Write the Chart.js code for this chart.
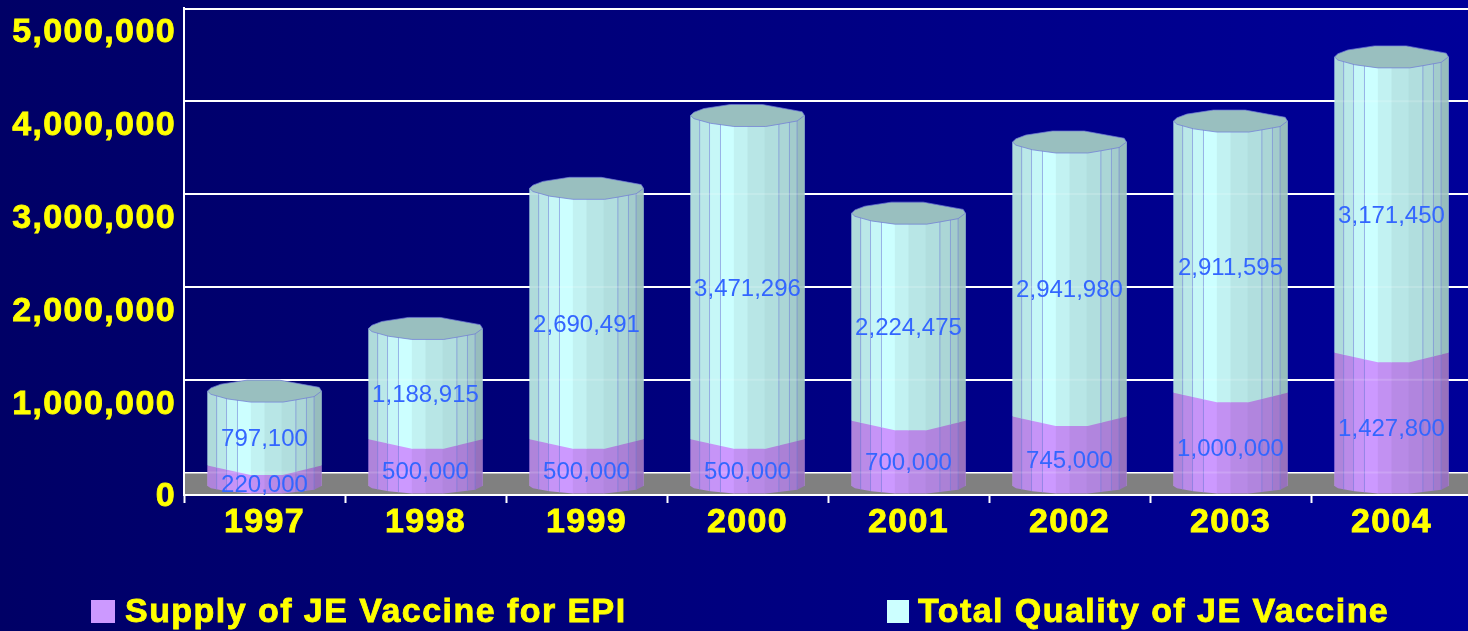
<!DOCTYPE html>
<html>
<head>
<meta charset="utf-8">
<style>
html,body{margin:0;padding:0;width:1468px;height:631px;overflow:hidden;background:linear-gradient(90deg,#000066 0%,#000099 100%);}
canvas{display:block;}
</style>
<script src="https://cdn.jsdelivr.net/npm/chart.js@4"></script>
</head>
<body>
<canvas id="c" width="1480" height="631"></canvas>
<script>
const years = ['1997','1998','1999','2000','2001','2002','2003','2004'];
const supplyEPI = [220000,500000,500000,500000,700000,745000,1000000,1427800];
const totalQuality = [797100,1188915,2690491,3471296,2224475,2941980,2911595,3171450];
const yTicks = [0,1000000,2000000,3000000,4000000,5000000];
const legendLabels = ['Supply of JE Vaccine for EPI','Total Quality of JE Vaccine'];

const FONT = '"Liberation Sans", Arial, sans-serif';
const PURPLE = [204,153,255], CYAN = [204,255,255];
const rgb = (c,m)=>`rgb(${Math.round(c[0]*m)},${Math.round(c[1]*m)},${Math.round(c[2]*m)})`;

// facet bands of the cylinder wall: [right edge as a fraction of width, brightness]
const bands = [[.08,.86],[.167,.91],[.263,.97],[.38,1],[.5,.95],[.65,.9],[.775,.87],[.868,.84],[.935,.8],[1,.74]];
const facetLines = [.08,.167,.263,.775,.868,.935];
const capUpper = [[0,0],[.03,-.29],[.117,-.63],[.35,-1],[.63,-1],[.98,-.34],[1,0]];
const footLower = [[1,0],[.935,.5],[.775,.8],[.66,1],[.38,1],[.175,.71],[.03,.29],[0,0]];
const joinLower = [[1,0],[.66,1],[.38,1],[0,0]];
const CAP = 11, JOIN = 9.5, FOOT = 7.5;

function drawWall(ctx,chart,el,color,topY,botY,drop,profile){
  const w=el.width, x=el.x-w/2;
  ctx.save();
  ctx.beginPath();
  ctx.moveTo(x,topY);
  ctx.lineTo(x+w,topY);
  profile.forEach(p=>ctx.lineTo(x+p[0]*w,botY+p[1]*drop));
  ctx.closePath();
  ctx.clip();
  let prev=0;
  bands.forEach(b=>{
    ctx.fillStyle=rgb(color,b[1]);
    ctx.fillRect(x+prev*w,topY-1,(b[0]-prev)*w+.5,botY+drop-topY+2);
    prev=b[0];
  });
  ctx.strokeStyle='rgba(110,120,215,.55)';
  ctx.lineWidth=1;
  facetLines.forEach(f=>{
    ctx.beginPath();ctx.moveTo(x+f*w,topY);ctx.lineTo(x+f*w,botY+drop);ctx.stroke();
  });
  // the wall is a little see-through: grid lines glimmer behind it
  const g=chart.scales.yGrid;
  ctx.strokeStyle='rgba(255,255,255,.16)';
  ctx.lineWidth=2;
  yTicks.forEach(v=>{
    const y=g.getPixelForValue(v);
    ctx.beginPath();ctx.moveTo(x,y);ctx.lineTo(x+w,y);ctx.stroke();
  });
  ctx.restore();
}

const cylinderPlugin = {
  id:'cylinders',
  beforeLayout(chart){chart.ctx.letterSpacing='1.4px';},
  beforeDatasetsDraw(chart){
    const {ctx,chartArea:a,scales}=chart;
    const t=scales.yGrid.getPixelForValue(0), b=scales.y.getPixelForValue(0);
    ctx.save();
    ctx.fillStyle='#808080';
    ctx.fillRect(a.left+1,t+1,a.right-a.left,b-t-2);
    ctx.restore();
  },
  afterDatasetsDraw(chart){
    const ctx=chart.ctx;
    const lo=chart.getDatasetMeta(0).data, hi=chart.getDatasetMeta(1).data;
    years.forEach((_,i)=>{
      const a=lo[i], b=hi[i];
      drawWall(ctx,chart,a,PURPLE,a.y,a.base,FOOT,footLower);
      drawWall(ctx,chart,b,CYAN,b.y,b.base,JOIN,joinLower);
      // top cap
      const w=b.width,x=b.x-w/2,y=b.y;
      ctx.save();
      ctx.beginPath();
      capUpper.concat(footLower).forEach((p,k)=>{
        const px=x+p[0]*w, py=y+p[1]*CAP;
        k?ctx.lineTo(px,py):ctx.moveTo(px,py);
      });
      ctx.closePath();
      ctx.fillStyle=rgb(CYAN,.75);
      ctx.fill();
      ctx.strokeStyle='rgba(110,120,215,.7)';
      ctx.lineWidth=1;
      ctx.stroke();
      ctx.restore();
    });
    // value labels
    ctx.save();
    ctx.letterSpacing='0px';
    ctx.font='24px '+FONT;
    ctx.fillStyle='#3366FF';
    ctx.textAlign='center';
    ctx.textBaseline='middle';
    [[lo,supplyEPI,10],[hi,totalQuality,11.5]].forEach(([els,vals,off])=>{
      els.forEach((el,i)=>{
        ctx.fillText(vals[i].toLocaleString('en-US'),el.x,(el.y+el.base)/2+off);
      });
    });
    ctx.restore();
  },
  afterDraw(chart){
    const ctx=chart.ctx;
    ctx.save();
    ctx.letterSpacing='1.45px';
    ctx.font='bold 34px '+FONT;
    ctx.textAlign='left';
    ctx.textBaseline='middle';
    ctx.lineWidth=.8;
    ctx.strokeStyle='#FFFF00';
    [[91,24,125],[887,22,918]].forEach((p,i)=>{
      ctx.fillStyle=chart.data.datasets[i].backgroundColor;
      ctx.fillRect(p[0],600,p[1],23);
      ctx.fillStyle='#FFFF00';
      ctx.strokeText(legendLabels[i],p[2],613);
      ctx.fillText(legendLabels[i],p[2],613);
    });
    ctx.restore();
  }
};

const canvas=document.getElementById('c');
canvas.getContext('2d').letterSpacing='1.4px';
const fmt=v=>Number(v).toLocaleString('en-US');
const noPad=s=>{s.paddingTop=0;s.paddingBottom=0;s.paddingLeft=0;s.paddingRight=0;};
const tickText={color:'#FFFF00',font:{family:FONT,size:34,weight:'bold'},textStrokeColor:'#FFFF00',textStrokeWidth:.8,autoSkip:false};

new Chart(canvas,{
  type:'bar',
  data:{
    labels:years,
    datasets:[
      {label:legendLabels[0],data:supplyEPI,backgroundColor:'#CC99FF',yAxisID:'yBars',stack:'s',barPercentage:1,categoryPercentage:.708},
      {label:legendLabels[1],data:totalQuality,backgroundColor:'#CCFFFF',yAxisID:'yBars',stack:'s',barPercentage:1,categoryPercentage:.708}
    ]
  },
  options:{
    responsive:false,
    animation:false,
    layout:{padding:{top:8,right:8,bottom:0,left:0}},
    plugins:{legend:{display:false},tooltip:{enabled:false},title:{display:false}},
    scales:{
      x:{
        stacked:true,
        afterFit(s){s.height=136;noPad(s);},
        grid:{drawOnChartArea:false,drawTicks:true,tickLength:8,tickColor:'#FFFFFF',tickWidth:2},
        border:{display:true,color:'#FFFFFF',width:2},
        ticks:{...tickText,padding:-1,maxRotation:0}
      },
      // front plane: carries the tick labels
      y:{
        position:'left',min:0,max:5247800,
        afterFit(s){s.width=184;noPad(s);},
        afterBuildTicks(s){s.ticks=yTicks.map(v=>({value:v}));},
        grid:{display:false,drawTicks:false},
        border:{display:true,color:'#FFFFFF',width:2},
        ticks:{...tickText,padding:8,labelOffset:2,callback:fmt}
      },
      // back wall: carries the grid lines
      yGrid:{
        position:'left',min:-242456,max:5005388,
        afterFit(s){s.width=0;noPad(s);},
        afterBuildTicks(s){s.ticks=yTicks.map(v=>({value:v}));},
        grid:{color:'#FFFFFF',lineWidth:2,drawTicks:false},
        border:{display:false},
        ticks:{display:false}
      },
      // mid plane: carries the cylinders
      yBars:{
        display:false,stacked:true,min:-96463,max:5123258
      }
    }
  },
  plugins:[cylinderPlugin]
});
</script>
</body>
</html>
